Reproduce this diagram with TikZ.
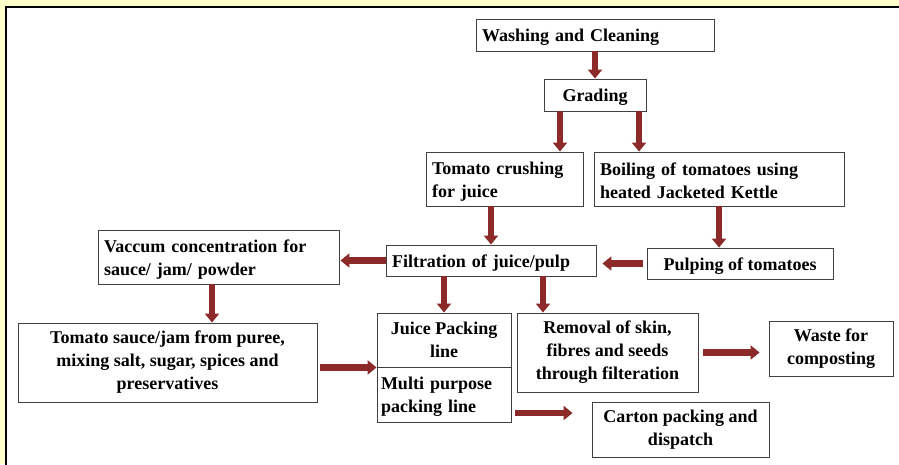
\documentclass[tikz,border=0pt]{standalone}
\usepackage{fontspec}
\setmainfont{Liberation Serif}
\usetikzlibrary{arrows.meta}
\definecolor{rdeca}{RGB}{140,42,42}
\definecolor{rumena}{RGB}{255,255,204}
\tikzset{
 box/.style={draw=black!75, line width=0.9pt, fill=white, inner xsep=6pt, inner ysep=0pt,
  font=\fontsize{18}{23}\selectfont\bfseries, execute at begin node=\rule{0pt}{17pt}},
 levo/.style={box, align=left, text width=#1},
 sredina/.style={box, align=center},
 tok/.style={draw=rdeca, line width=6.5pt, -{Triangle[width=14pt,length=9pt]}}
}
\begin{document}
\begin{tikzpicture}[x=1pt,y=-1pt]
\useasboundingbox (0,0) rectangle (899,464);
% okvir
\fill[rumena] (0,0) rectangle (899,464);
\fill[white] (6,7) rectangle (905,470);
\draw[line width=2pt] (6,470)--(6,6.5)--(905,6.5);

\node[levo=226pt, minimum width=238pt, minimum height=32pt] (wash) at (595,35) {Washing and Cleaning};
\node[sredina, minimum width=102pt, minimum height=32pt] (grade) at (595,95) {Grading};
\node[levo=145pt, minimum width=157pt, minimum height=54pt] (crush) at (504.5,179) {Tomato crushing\\for juice};
\node[levo=238pt, minimum width=250pt, minimum height=54pt] (boil) at (719,179) {Boiling of tomatoes using\\heated Jacketed Kettle};
\node[levo=198pt, minimum width=210pt, minimum height=31pt] (filt) at (491,260.5) {Filtration of juice/pulp};
\node[sredina, minimum width=186pt, minimum height=31pt] (pulp) at (740,263.5) {Pulping of tomatoes};
\node[levo=229pt, minimum width=241pt, minimum height=54pt] (vac) at (218.5,257) {Vaccum concentration for\\sauce/ jam/ powder};
\node[sredina, minimum width=299pt, minimum height=79pt] (sauce) at (167.5,362.5) {Tomato sauce/jam from puree,\\mixing salt, sugar, spices and\\preservatives};
\node[sredina, minimum width=134pt, minimum height=54pt] (juice) at (444,340) {Juice Packing\\line};
\node[levo=126pt, inner xsep=4pt, minimum width=134pt, minimum height=55pt] (multi) at (444,394.5) {Multi purpose\\packing line};
\node[sredina, minimum width=181pt, minimum height=79pt] (remov) at (607.5,352.5) {Removal of skin,\\fibres and seeds\\through filteration};
\node[sredina, minimum width=124pt, minimum height=55pt] (waste) at (831,348.5) {Waste for\\composting};
\node[sredina, minimum width=177pt, minimum height=55pt] (carton) at (680.5,429.5) {Carton packing and\\dispatch};

% puscice
\draw[tok] (wash.south)--(grade.north);
\draw[tok] ([xshift=-35pt]grade.south)--([xshift=-35pt]grade.south |- crush.north);
\draw[tok] ([xshift=44pt]grade.south)--([xshift=44pt]grade.south |- boil.north);
\draw[tok] (crush.south -| filt.north)--(filt.north);
\draw[tok] (boil.south)--(boil.south |- pulp.north);
\draw[tok, shorten <=4pt, shorten >=6pt] (pulp.west)--(pulp.west -| filt.east);
\draw[tok, shorten >=1pt] (filt.west)--(filt.west -| vac.east);
\draw[tok] ([xshift=-6.5pt]vac.south)--([xshift=-6.5pt]vac.south |- sauce.north);
\draw[tok, shorten <=3pt] (sauce.east |- juice.south west)--(juice.south west);
\draw[tok] (filt.south -| juice.north)--(juice.north);
\draw[tok] ([xshift=52pt]filt.south)--([xshift=52pt]filt.south |- remov.north);
\draw[tok, shorten <=5pt, shorten >=9pt] (remov.east)--(remov.east -| waste.west);
\draw[tok, shorten <=4pt, shorten >=19pt] ([yshift=-18.5pt]multi.east)--([yshift=-18.5pt]multi.east -| carton.west);
\end{tikzpicture}
\end{document}
